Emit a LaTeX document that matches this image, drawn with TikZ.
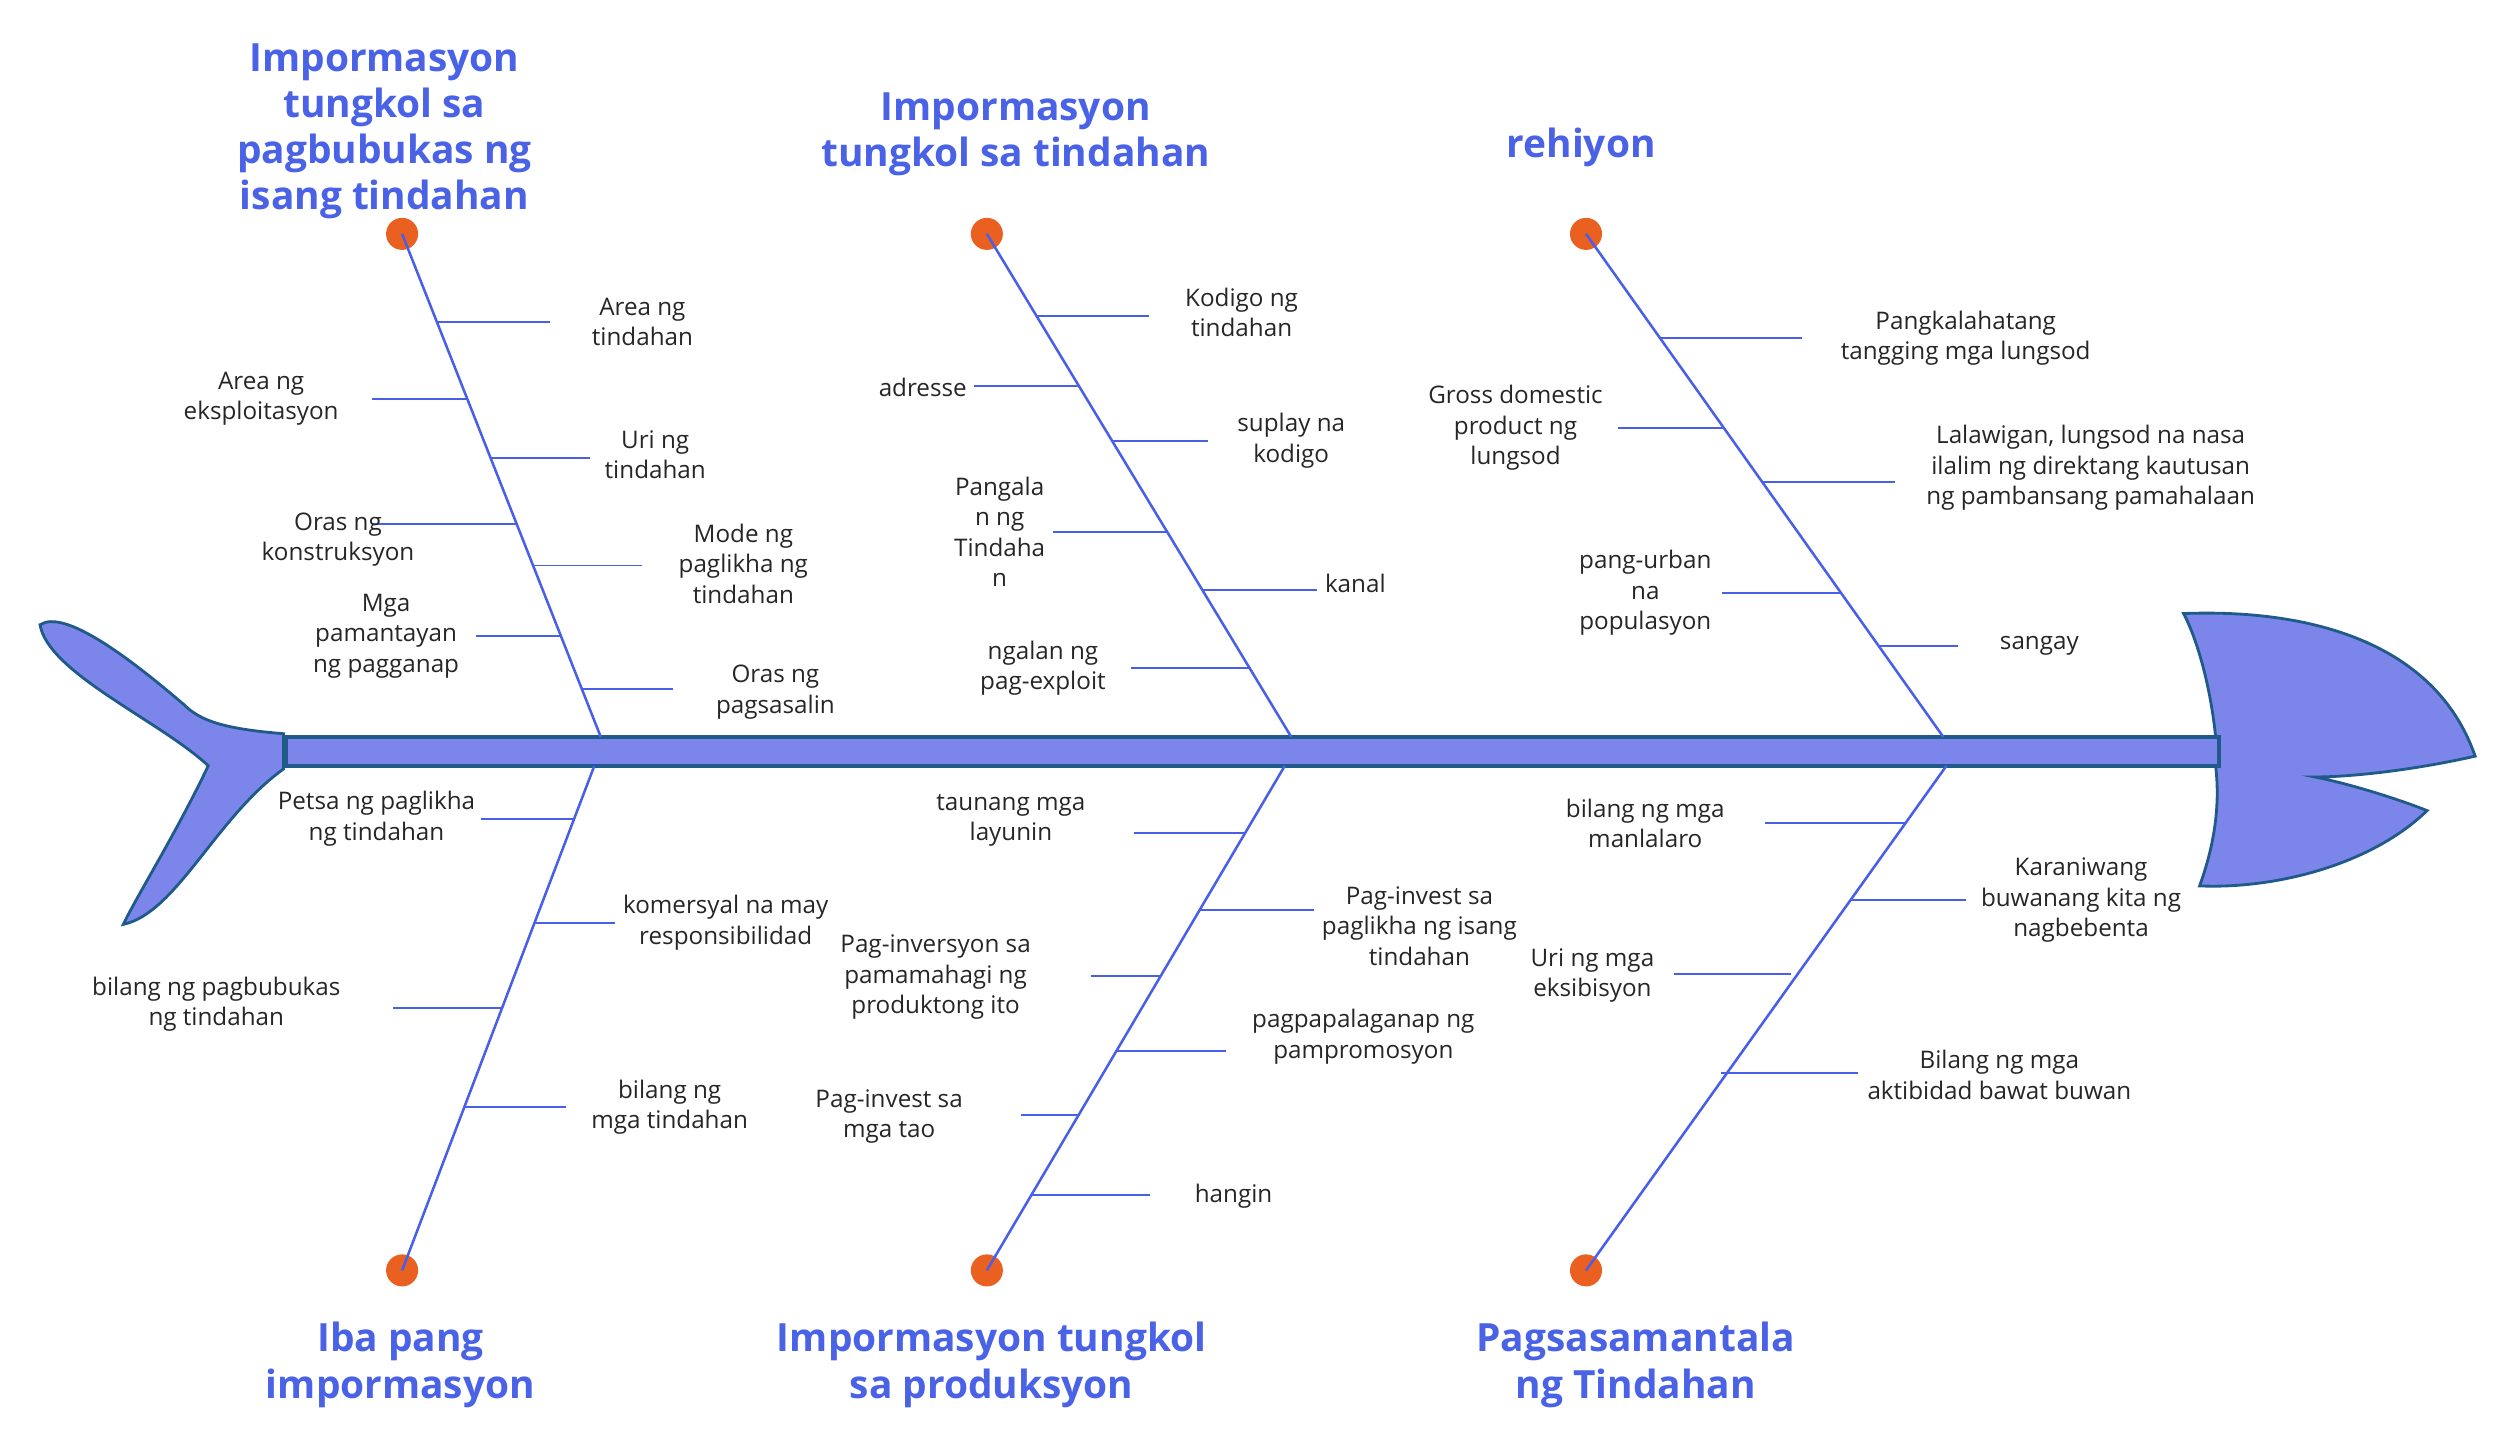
\documentclass[tikz,border=0pt]{standalone}
\usepackage{fontspec}
\setmainfont{Open Sans}
\definecolor{bl}{HTML}{4A62E6}
\definecolor{ln}{HTML}{4A5FE8}
\definecolor{fishf}{HTML}{7B85EA}
\definecolor{fishd}{HTML}{1F5A8A}
\definecolor{dotc}{HTML}{EA6020}
\begin{document}
\begin{tikzpicture}[x=0.01cm,y=-0.01cm,
  ttl/.style={font=\fontsize{6.9}{8.2}\selectfont\bfseries,text=bl,align=center},
  lab/.style={font=\fontsize{4.3}{5.4}\selectfont,text=black!85,align=center},
  bone/.style={draw=ln,line width=0.45pt},
  br/.style={draw=ln,line width=0.35pt},
  dot/.style={circle,fill=dotc,minimum size=0.2cm,inner sep=0pt}]
\useasboundingbox (0,0) rectangle (1568,904);
% tail
\draw[fishd,fill=fishf,line width=0.5pt] (177,458) .. controls (140,455) and (125,450) .. (115,440)
 .. controls (80,410) and (40,380) .. (25,390) .. controls (30,420) and (100,450) .. (130,478)
 .. controls (110,520) and (85,560) .. (77,577) .. controls (110,570) and (135,510) .. (177,480) -- cycle;
% head
\draw[fishd,fill=fishf,line width=0.5pt] (1383,460) .. controls (1380,430) and (1372,400) .. (1363,383)
 .. controls (1440,380) and (1520,400) .. (1545,472) .. controls (1510,480) and (1470,485) .. (1445,485)
 .. controls (1470,490) and (1500,500) .. (1515,506) .. controls (1480,540) and (1420,555) .. (1373,553)
 .. controls (1385,520) and (1385,495) .. (1383,478) -- cycle;
% spine
\node[draw=fishd,fill=fishf,line width=0.8pt,minimum width=12.06cm,minimum height=0.18cm,inner sep=0pt,anchor=west] (spine) at (177,469) {};
% dots
\node[dot] (d1) at (251,146) {}; \node[dot] (d2) at (616,146) {}; \node[dot] (d3) at (990,146) {};
\node[dot] (d4) at (251,793) {}; \node[dot] (d5) at (616,793) {}; \node[dot] (d6) at (990,793) {};
\coordinate (e1) at (375,460); \coordinate (e2) at (806,460); \coordinate (e3) at (1213,460);
\coordinate (e4) at (371,478); \coordinate (e5) at (802,478); \coordinate (e6) at (1215,478);
\foreach \a/\b in {d1/e1,d2/e2,d3/e3,d4/e4,d5/e5,d6/e6} \draw[bone] (\a.center) -- (\b);
% titles
\node[ttl] (t1) at (240,82) {Impormasyon\\tungkol sa\\pagbubukas ng\\isang tindahan};
\node[ttl] (t2) at (634,84) {Impormasyon\\tungkol sa tindahan};
\node[ttl] (t3) at (987,92) {rehiyon};
\node[ttl] (t4) at (250,852) {Iba pang\\impormasyon};
\node[ttl] (t5) at (619,852) {Impormasyon tungkol\\sa produksyon};
\node[ttl] (t6) at (1021,852) {Pagsasamantala\\ng Tindahan};
% branches: x0,y0 (start on bone), x1 end, text pos, text
\newcommand\brn[6]{\coordinate (b#1) at (#2,#3); \coordinate (c#1) at (#4,#3); \draw[br] (b#1) -- (c#1);
  \node[lab] (l#1) at #5 {#6};}
% top bone 1
\brn{1}{273}{201}{343}{(401,201)}{Area ng\\tindahan}
\brn{2}{292}{249}{232}{(163,249)}{Area ng\\eksploitasyon}
\brn{3}{306}{286}{368}{(409,284)}{Uri ng\\tindahan}
\brn{4}{323}{327}{232}{(211,337)}{Oras ng\\konstruksyon}
\brn{5}{333}{353}{401}{(464,352)}{Mode ng\\paglikha ng\\tindahan}
\brn{6}{350}{397}{297}{(241,397)}{Mga\\pamantayan\\ng pagganap}
\brn{7}{363}{430}{420}{(484,432)}{Oras ng\\pagsasalin}
% top bone 2
\brn{8}{647}{197}{717}{(775,195)}{Kodigo ng\\tindahan}
\brn{9}{674}{241}{608}{(576,242)}{adresse}
\brn{10}{695}{275}{754}{(806,275)}{suplay na\\kodigo}
\brn{11}{729}{332}{657}{(624,332)}{Pangala\\n ng\\Tindaha\\n}
\brn{12}{751}{368}{822}{(846,364)}{kanal}
\brn{13}{781}{417}{706}{(651,417)}{ngalan ng\\pag-exploit}
% top bone 3
\brn{14}{1036}{211}{1125}{(1227,211)}{Pangkalahatang\\tangging mga lungsod}
\brn{15}{1076}{267}{1010}{(946,267)}{Gross domestic\\product ng\\lungsod}
\brn{16}{1100}{301}{1183}{(1305,292)}{Lalawigan, lungsod na nasa\\ilalim ng direktang kautusan\\ng pambansang pamahalaan}
\brn{17}{1149}{370}{1075}{(1027,370)}{pang-urban\\na\\populasyon}
\brn{18}{1172}{403}{1222}{(1273,403)}{sangay}
% bottom bone 1
\brn{19}{358}{511}{300}{(235,511)}{Petsa ng paglikha\\ng tindahan}
\brn{20}{334}{576}{384}{(453,576)}{komersyal na may\\responsibilidad}
\brn{21}{313}{629}{245}{(135,627)}{bilang ng pagbubukas\\ng tindahan}
\brn{22}{290}{691}{353}{(418,691)}{bilang ng\\mga tindahan}
% bottom bone 2
\brn{23}{777}{520}{708}{(631,512)}{taunang mga\\layunin}
\brn{24}{749}{568}{820}{(886,578)}{Pag-invest sa\\paglikha ng isang\\tindahan}
\brn{25}{725}{609}{681}{(584,610)}{Pag-inversyon sa\\pamamahagi ng\\produktong ito}
\brn{26}{697}{656}{765}{(851,647)}{pagpapalaganap ng\\pampromosyon}
\brn{27}{674}{696}{637}{(555,697)}{Pag-invest sa\\mga tao}
\brn{28}{644}{746}{718}{(770,747)}{hangin}
% bottom bone 3
\brn{29}{1189}{514}{1102}{(1027,514)}{bilang ng mga\\manlalaro}
\brn{30}{1155}{562}{1227}{(1299,562)}{Karaniwang\\buwanang kita ng\\nagbebenta}
\brn{31}{1118}{608}{1045}{(994,609)}{Uri ng mga\\eksibisyon}
\brn{32}{1074}{670}{1160}{(1248,671)}{Bilang ng mga\\aktibidad bawat buwan}
\end{tikzpicture}
\end{document}
